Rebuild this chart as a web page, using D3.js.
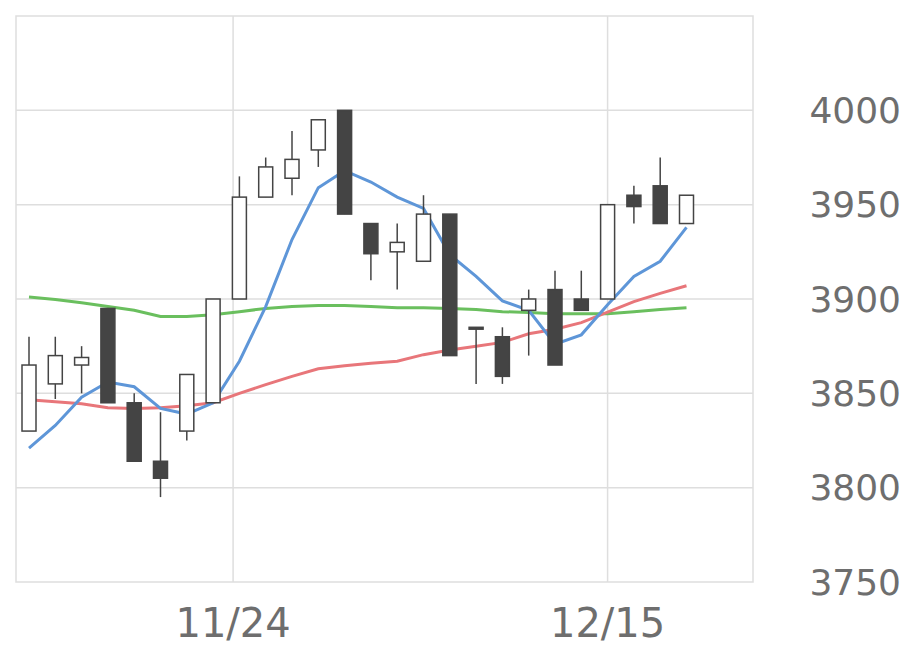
<!DOCTYPE html>
<html><head><meta charset="utf-8">
<script src="https://cdn.jsdelivr.net/npm/d3@7"></script>
<style>body{margin:0;background:#fff}</style></head>
<body><svg id="c" width="920" height="669"></svg>
<script>
const opens  = [3830,3855,3865,3895,3845,3814,3830,3845,3900,3954,3964,3979,4000,3940,3925,3920,3945,3885,3880,3894,3905,3900,3900,3955,3960,3940];
const closes = [3865,3870,3869,3845,3814,3805,3860,3900,3954,3970,3974,3995,3945,3924,3930,3945,3870,3884,3859,3900,3865,3894,3950,3949,3940,3955];
const highs  = [3880,3880,3875,3895,3850,3840,3860,3900,3965,3975,3989,3995,4000,3940,3940,3955,3945,3885,3885,3905,3915,3915,3950,3960,3975,3955];
const lows   = [3830,3847,3850,3845,3814,3795,3825,3845,3900,3954,3955,3970,3945,3910,3905,3920,3870,3855,3855,3870,3865,3894,3900,3940,3940,3940];
const ma5  = [3821,3833,3848,3856,3853.5,3842,3839,3845,3867,3896,3931.5,3959,3968,3962,3954,3948,3923.5,3912,3899,3894,3876,3881,3897,3912,3920,3938];
const ma25 = [3846.6,3845.5,3844.5,3842.4,3842,3842.4,3843.4,3845,3850,3854.6,3859,3863,3864.6,3866,3867,3870.5,3873,3875,3877,3881.6,3884,3887.5,3893,3898.6,3903,3907];
const ma75 = [3901,3899.7,3898,3896,3894,3890.7,3890.7,3891.7,3893.3,3895,3896,3896.5,3896.5,3896,3895.4,3895.4,3895,3894.4,3893.3,3892.8,3892.2,3892.2,3892.2,3893.3,3894.4,3895.4];
const yTicks = [3750,3800,3850,3900,3950,4000];
const xTickPos = [7.76,22];
const xTickLabels = ["11/24","12/15"];

const svg = d3.select("#c");
const L=16,R=753,T=16,B=582;
const x = d3.scaleLinear().domain([0,25]).range([29,686.5]);
const y = d3.scaleLinear().domain([3750,4050]).range([B,T]);
const grid="#dedede";
svg.append("rect").attr("x",L).attr("y",T).attr("width",R-L).attr("height",B-T).attr("fill","none").attr("stroke",grid).attr("stroke-width",1.5);
yTicks.filter(v=>v>3750).forEach(v=>svg.append("line").attr("x1",L).attr("x2",R).attr("y1",y(v)).attr("y2",y(v)).attr("stroke",grid).attr("stroke-width",1.5));
xTickPos.forEach(p=>svg.append("line").attr("x1",x(p)).attr("x2",x(p)).attr("y1",T).attr("y2",B).attr("stroke",grid).attr("stroke-width",1.5));
yTicks.forEach(v=>svg.append("text").attr("x",901).attr("y",y(v)).attr("dy","0.35em").attr("text-anchor","end")
  .attr("font-family","DejaVu Sans").attr("font-size",36).attr("fill","#6e6e6e").text(v));
xTickPos.forEach((p,i)=>svg.append("text").attr("x",x(p)).attr("y",637).attr("text-anchor","middle")
  .attr("font-family","DejaVu Sans").attr("font-size",40).attr("fill","#6e6e6e").text(xTickLabels[i]));

const line = d3.line().x((d,i)=>x(i)).y(d=>y(d));
[[ma75,"#6abf5e"],[ma25,"#e8767a"],[ma5,"#5e96d8"]].forEach(([d,c])=>
  svg.append("path").attr("d",line(d)).attr("fill","none").attr("stroke",c).attr("stroke-width",3));

const w=14, col="#444";
opens.forEach((o,i)=>{
  const c=closes[i], cx=x(i);
  const g=svg.append("g");
  g.append("line").attr("x1",cx).attr("x2",cx).attr("y1",y(highs[i])).attr("y2",y(lows[i])).attr("stroke",col).attr("stroke-width",1.5);
  const top=y(Math.max(o,c)), bot=y(Math.min(o,c));
  g.append("rect").attr("x",cx-w/2).attr("y",top).attr("width",w).attr("height",Math.max(1,bot-top))
    .attr("fill",c>=o?"#fff":col).attr("stroke",col).attr("stroke-width",1.5);
});
</script></body></html>
